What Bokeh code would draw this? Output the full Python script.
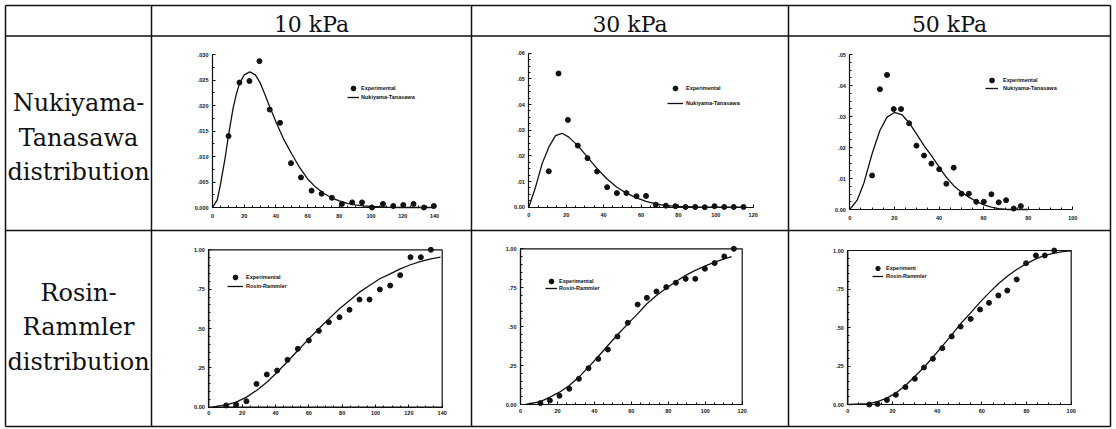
from bokeh.plotting import figure
from bokeh.models import Range1d, LinearAxis, FixedTicker, Legend, LegendItem
from bokeh.embed import file_html
from bokeh.resources import INLINE
from bokeh.core.properties import value

# ---------------- data ----------------
col_headers = ["10 kPa", "30 kPa", "50 kPa"]
row_nt_lines = ["Nukiyama-", "Tanasawa", "distribution"]
row_rr_lines = ["Rosin-", "Rammler", "distribution"]

# Nukiyama-Tanasawa, 10 kPa
nt10_exp_x = [10.1, 17.0, 23.3, 29.6, 36.1, 42.6, 49.5, 55.8, 62.5, 68.8, 75.3, 81.6, 88.1, 94.3, 100.6, 107.5, 114.0, 120.3, 126.8, 133.3, 139.6]
nt10_exp_y = [0.0140, 0.0245, 0.0248, 0.0287, 0.0192, 0.0166, 0.0087, 0.0059, 0.0033, 0.0027, 0.0019, 0.0007, 0.0010, 0.0010, 0.0000, 0.0007, 0.0003, 0.0005, 0.0007, 0.0000, 0.0003]
nt10_fit_x = [0, 3, 5, 8, 10, 13, 15, 17, 20, 23.5, 27, 30, 33, 36, 40, 45, 50, 55, 60, 65, 70, 75, 80, 85, 90, 95, 100, 110, 120, 130, 140]
nt10_fit_y = [0, 0.0015, 0.0045, 0.0098, 0.0140, 0.0195, 0.0222, 0.0243, 0.0260, 0.0266, 0.0260, 0.0245, 0.0222, 0.0198, 0.0168, 0.0133, 0.0105, 0.0078, 0.0056, 0.0040, 0.0028, 0.0019, 0.0013, 0.0008, 0.0005, 0.0003, 0.0002, 0.00005, 0, 0, 0]

# Nukiyama-Tanasawa, 30 kPa
nt30_exp_x = [10.7, 15.9, 20.9, 26.2, 31.4, 36.5, 41.9, 47.1, 52.2, 57.6, 62.7, 67.9, 73.3, 78.4, 83.8, 89.0, 94.1, 99.3, 104.5, 109.6, 114.8]
nt30_exp_y = [0.0140, 0.0521, 0.0340, 0.0240, 0.0191, 0.0139, 0.0078, 0.0055, 0.0055, 0.0043, 0.0044, 0.0010, 0.0006, 0.0004, 0.0001, 0.0001, 0.0000, 0.0004, 0.0001, 0.0001, 0.0001]
nt30_fit_x = [0, 3.6, 7.1, 10.7, 14.3, 17.8, 21.4, 26.2, 31.4, 36.5, 41.9, 47.1, 52.2, 57.6, 62.7, 67.9, 73.3, 80, 90, 100, 115]
nt30_fit_y = [0, 0.0078, 0.0169, 0.0234, 0.0279, 0.0288, 0.0273, 0.0240, 0.0195, 0.0150, 0.0110, 0.0078, 0.0055, 0.0036, 0.0023, 0.0013, 0.0006, 0.0003, 0.0001, 0, 0]

# Nukiyama-Tanasawa, 50 kPa
nt50_exp_x = [10.0, 13.5, 16.7, 19.7, 23.0, 26.6, 29.9, 33.3, 36.6, 40.1, 43.3, 46.6, 50.1, 53.4, 56.7, 60.1, 63.5, 66.8, 70.1, 73.5, 76.7]
nt50_exp_y = [0.0110, 0.0388, 0.0434, 0.0324, 0.0324, 0.0278, 0.0206, 0.0174, 0.0148, 0.0130, 0.0083, 0.0135, 0.0051, 0.0051, 0.0025, 0.0025, 0.0049, 0.0023, 0.0030, 0.0003, 0.0011]
nt50_fit_x = [0, 3.3, 6.3, 10.0, 13.5, 16.7, 20.0, 23.5, 26.6, 29.9, 33.3, 36.6, 40.1, 43.3, 46.6, 50.1, 53.4, 56.7, 60.1, 63.5, 66.8, 70.6, 80]
nt50_fit_y = [0, 0.0030, 0.0085, 0.0180, 0.0255, 0.0298, 0.0313, 0.0305, 0.0280, 0.0244, 0.0206, 0.0174, 0.0137, 0.0104, 0.0077, 0.0056, 0.0040, 0.0026, 0.0015, 0.0008, 0.0003, 0, 0]

# Rosin-Rammler, 10 kPa
rr10_exp_x = [10.4, 16.4, 22.6, 28.6, 34.8, 41.0, 47.2, 53.4, 60.0, 66.0, 72.0, 78.4, 84.4, 90.4, 96.4, 102.6, 108.8, 114.8, 121.0, 127.2, 133.2]
rr10_exp_y = [0.011, 0.017, 0.038, 0.148, 0.208, 0.233, 0.301, 0.371, 0.424, 0.485, 0.540, 0.572, 0.619, 0.684, 0.684, 0.748, 0.773, 0.839, 0.953, 0.953, 1.0]
rr10_fit_x = [2, 10.4, 16.4, 22.6, 28.6, 34.8, 41.0, 47.2, 53.4, 60.0, 66.0, 72.0, 78.4, 84.4, 90.4, 96.4, 102.6, 108.8, 114.8, 121.0, 127.2, 133.2, 139]
rr10_fit_y = [0, 0.015, 0.032, 0.064, 0.106, 0.159, 0.222, 0.290, 0.360, 0.434, 0.498, 0.561, 0.625, 0.678, 0.731, 0.773, 0.816, 0.847, 0.879, 0.905, 0.926, 0.943, 0.953]

# Rosin-Rammler, 30 kPa
rr30_exp_x = [10.8, 15.9, 21.1, 26.4, 31.6, 36.8, 42.1, 47.3, 52.5, 58.1, 63.4, 68.4, 73.6, 78.9, 84.1, 89.4, 94.6, 99.8, 105.1, 110.3, 115.5]
rr30_exp_y = [0.009, 0.026, 0.056, 0.101, 0.165, 0.233, 0.293, 0.353, 0.437, 0.525, 0.642, 0.685, 0.726, 0.754, 0.782, 0.807, 0.807, 0.872, 0.908, 0.951, 1.0]
rr30_fit_x = [2.7, 10.8, 15.9, 21.1, 26.4, 31.6, 36.8, 42.1, 47.3, 52.5, 58.1, 63.4, 68.4, 73.6, 78.9, 84.1, 89.4, 94.6, 99.8, 105.1, 110.3, 114.3]
rr30_fit_y = [0, 0.019, 0.047, 0.079, 0.122, 0.176, 0.240, 0.308, 0.379, 0.448, 0.518, 0.582, 0.647, 0.700, 0.747, 0.790, 0.829, 0.861, 0.889, 0.914, 0.936, 0.949]

# Rosin-Rammler, 50 kPa
rr50_exp_x = [9.6, 13.3, 17.5, 21.5, 25.8, 30.0, 34.1, 38.1, 42.3, 46.5, 50.5, 55.0, 59.2, 63.2, 67.4, 71.4, 75.6, 79.8, 84.2, 88.2, 92.4]
rr50_exp_y = [0, 0.004, 0.030, 0.063, 0.113, 0.167, 0.240, 0.297, 0.366, 0.442, 0.506, 0.556, 0.617, 0.660, 0.708, 0.740, 0.812, 0.918, 0.968, 0.968, 1.0]
rr50_fit_x = [0.5, 9.6, 13.3, 17.5, 21.5, 25.8, 30.0, 34.1, 38.1, 42.3, 46.5, 50.5, 55.0, 59.2, 63.2, 67.4, 71.4, 75.6, 79.8, 84.2, 88.2, 92.4, 96.9, 100]
rr50_fit_y = [0, 0.006, 0.019, 0.041, 0.074, 0.123, 0.182, 0.242, 0.307, 0.379, 0.452, 0.524, 0.595, 0.665, 0.725, 0.784, 0.833, 0.877, 0.913, 0.946, 0.968, 0.983, 0.994, 0.998]

# tick values / labels
x_ticks_140 = [0, 20, 40, 60, 80, 100, 120, 140]
x_ticks_120 = [0, 20, 40, 60, 80, 100, 120]
x_ticks_100 = [0, 20, 40, 60, 80, 100]
y_ticks_nt10 = [0, 0.005, 0.010, 0.015, 0.020, 0.025, 0.030]
y_labels_nt10 = ["0.000", ".005", ".010", ".015", ".020", ".025", ".030"]
y_ticks_nt30 = [0, 0.01, 0.02, 0.03, 0.04, 0.05, 0.06]
y_labels_nt30 = ["0.00", ".01", ".02", ".03", ".04", ".05", ".06"]
y_ticks_nt50 = [0, 0.01, 0.02, 0.03, 0.04, 0.05]
y_labels_nt50 = ["0.00", ".01", ".02", ".03", ".04", ".05"]
y_ticks_rr = [0, 0.25, 0.5, 0.75, 1.0]
y_labels_rr = ["0.00", ".25", ".50", ".75", "1.00"]

# ---------------- canvas ----------------
W, H = 1114, 428
OX, OY = 0, 0   # page offset of the canvas

p = figure(width=W, height=H, x_range=Range1d(0, W), y_range=Range1d(H, 0),
           x_axis_type=None, y_axis_type=None, output_backend="svg",
           toolbar_location=None, min_border=0, outline_line_color=None,
           background_fill_color="white", border_fill_color="white")
p.grid.visible = False

# table rules (page coordinates -> canvas)
vlines = [5 - OX, 151 - OX, 471 - OX, 788 - OX, 1110 - OX]
hlines = [5 - OY, 35.5 - OY, 230 - OY, 426 - OY]
p.segment(x0=vlines, x1=vlines, y0=[hlines[0]] * 5, y1=[hlines[-1]] * 5,
          line_color="#111111", line_width=1.5)
p.segment(x0=[vlines[0]] * 4, x1=[vlines[-1]] * 4, y0=hlines, y1=hlines,
          line_color="#111111", line_width=1.5)

serif = value("DejaVu Serif")
p.text(x=[311 - OX, 629.5 - OX, 949 - OX], y=[24 - OY] * 3, text=col_headers,
       text_font=serif, text_font_size="22px", text_align="center",
       text_baseline="alphabetic", text_color="#111111")
p.text(x=[78 - OX] * 3, y=[102.5 - OY, 137 - OY, 171.5 - OY], text=row_nt_lines,
       text_font=serif, text_font_size="24px", text_align="center",
       text_baseline="alphabetic", text_color="#111111")
p.text(x=[78 - OX] * 3, y=[292 - OY, 326.5 - OY, 361 - OY], text=row_rr_lines,
       text_font=serif, text_font_size="24px", text_align="center",
       text_baseline="alphabetic", text_color="#111111")

sans = "Liberation Sans"


def add_key(label, renderer, gx0, gw, cy, standoff):
    """One legend row: glyph box gx0..gx0+gw (page px), centred at page y cy."""
    gh = 12
    lg = Legend(items=[LegendItem(label=label, renderers=[renderer])],
                location=(gx0 - OX, H - (cy + gh / 2 - OY)),
                orientation="vertical", padding=0, margin=0, spacing=0,
                glyph_width=gw, glyph_height=gh, label_height=gh,
                label_standoff=standoff, label_text_font=sans,
                label_text_font_size="5.5px", label_text_font_style="bold",
                label_text_color="#111111", border_line_color=None,
                background_fill_alpha=0)
    p.add_layout(lg)


def panel(name, xd, yd, xp, yp, xt, yt, ylab, ex, ey, fx, fy, exp_label, fit_label,
          leg, boxed, x_minor, y_minor):
    sx = (xp[1] - xp[0]) / (xd[1] - xd[0])
    xs = xd[0] - (xp[0] - OX) / sx
    sy = (yp[0] - yp[1]) / (yd[1] - yd[0])
    ys = yd[0] - (H - (yp[0] - OY)) / sy
    xn, yn = name + "_x", name + "_y"
    p.extra_x_ranges[xn] = Range1d(xs, xs + W / sx)
    p.extra_y_ranges[yn] = Range1d(ys, ys + H / sy)

    common = dict(axis_line_color="#111111", axis_line_width=1.2,
                  major_tick_line_color="#111111", minor_tick_line_color="#111111",
                  major_tick_in=3, major_tick_out=0, minor_tick_in=2, minor_tick_out=0,
                  major_label_text_font=sans, major_label_text_font_size="5.5px",
                  major_label_text_font_style="bold", major_label_text_color="#111111")
    xa = LinearAxis(x_range_name=xn, y_range_name=yn, fixed_location=yd[0],
                    bounds=(xd[0], xd[1]), ticker=FixedTicker(ticks=xt, minor_ticks=x_minor),
                    major_label_standoff=4 if boxed else 6, **common)
    p.add_layout(xa, "below")
    ya = LinearAxis(x_range_name=xn, y_range_name=yn, fixed_location=xd[0],
                    bounds=(yd[0], yd[1]), ticker=FixedTicker(ticks=yt, minor_ticks=y_minor),
                    major_label_overrides={t: l for t, l in zip(yt, ylab)},
                    major_label_standoff=4, **common)
    p.add_layout(ya, "left")
    if boxed:
        p.quad(left=[xd[0]], right=[xd[1]], bottom=[yd[0]], top=[yd[1]],
               fill_color=None, line_color="#111111", line_width=1.2,
               x_range_name=xn, y_range_name=yn)

    ln = p.line(fx, fy, line_color="#111111", line_width=1.3,
                x_range_name=xn, y_range_name=yn)
    sc = p.scatter(ex, ey, size=5, marker="circle", fill_color="#111111",
                   line_color="#111111", x_range_name=xn, y_range_name=yn)

    gx0, gw, row1, step, standoff = leg
    add_key(exp_label, sc, gx0, gw, row1, standoff)
    add_key(fit_label, ln, gx0, gw, row1 + step, standoff)


minor_y_nt10 = [0.0025 * i for i in range(13)]
minor_y_nt30 = [0.0025 * i for i in range(25)]
minor_y_nt50 = [0.0025 * i for i in range(21)]
minor_y_rr = [0.05 * i for i in range(21)]
minor_x_140 = [5 * i for i in range(29)]
minor_x_120 = [5 * i for i in range(25)]
minor_x_100 = [5 * i for i in range(21)]

panel("nt10", (0, 140), (0, 0.030), (212, 434), (207, 54), x_ticks_140, y_ticks_nt10, y_labels_nt10,
      nt10_exp_x, nt10_exp_y, nt10_fit_x, nt10_fit_y, "Experimental", "Nukiyama-Tanasawa",
      (347, 12, 88, 9, 2), False, minor_x_140, minor_y_nt10)
panel("nt30", (0, 120), (0, 0.06), (528.3, 752.7), (206.7, 52.7), x_ticks_120, y_ticks_nt30, y_labels_nt30,
      nt30_exp_x, nt30_exp_y, nt30_fit_x, nt30_fit_y, "Experimental", "Nukiyama-Tanasawa",
      (667, 16, 87.7, 15, 3), False, minor_x_120, minor_y_nt30)
panel("nt50", (0, 100), (0, 0.05), (849.3, 1072.3), (209, 54), x_ticks_100, y_ticks_nt50, y_labels_nt50,
      nt50_exp_x, nt50_exp_y, nt50_fit_x, nt50_fit_y, "Experimental", "Nukiyama-Tanasawa",
      (985, 13, 80, 8.3, 5), False, minor_x_100, minor_y_nt50)
panel("rr10", (0, 140), (0, 1.0), (208.3, 441.7), (406.7, 249.3), x_ticks_140, y_ticks_rr, y_labels_rr,
      rr10_exp_x, rr10_exp_y, rr10_fit_x, rr10_fit_y, "Experimental", "Rosin-Rammler",
      (227, 16, 277.3, 8.4, 3), True, minor_x_140, minor_y_rr)
panel("rr30", (0, 120), (0, 1.0), (520, 741.7), (404, 248.3), x_ticks_120, y_ticks_rr, y_labels_rr,
      rr30_exp_x, rr30_exp_y, rr30_fit_x, rr30_fit_y, "Experimental", "Rosin-Rammler",
      (545, 12, 281, 7.3, 2), True, minor_x_120, minor_y_rr)
panel("rr50", (0, 100), (0, 1.0), (847.3, 1070.7), (404, 250), x_ticks_100, y_ticks_rr, y_labels_rr,
      rr50_exp_x, rr50_exp_y, rr50_fit_x, rr50_fit_y, "Experiment", "Rosin-Rammler",
      (872, 11, 268.3, 7.4, 3), True, minor_x_100, minor_y_rr)

open("out.html", "w").write(file_html(p, INLINE))
